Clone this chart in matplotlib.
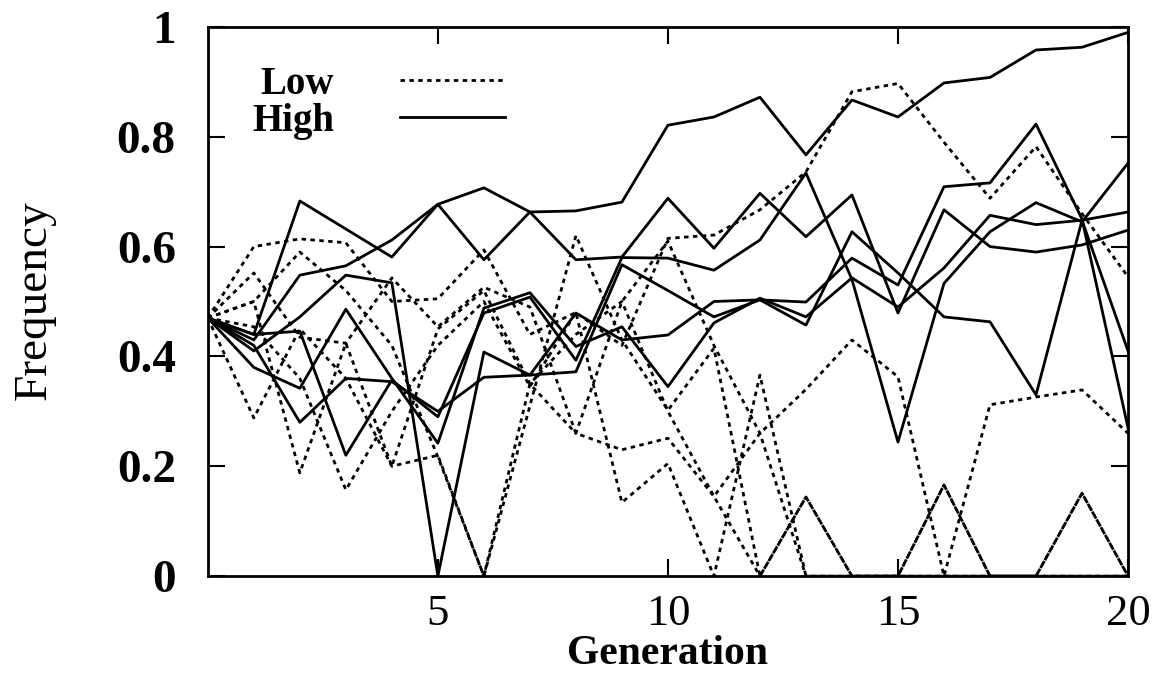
import matplotlib
matplotlib.use("Agg")
from matplotlib import pyplot as plt

# generations 0..20
gen = list(range(21))

# "High" runs (solid)
high_1 = [0.47, 0.43, 0.548, 0.565, 0.612, 0.677, 0.707, 0.663, 0.665, 0.681, 0.821,
          0.836, 0.872, 0.767, 0.867, 0.836, 0.898, 0.908, 0.958, 0.963, 0.99]
high_2 = [0.47, 0.44, 0.683, 0.632, 0.581, 0.677, 0.576, 0.663, 0.576, 0.581, 0.688,
          0.597, 0.697, 0.618, 0.694, 0.479, 0.667, 0.60, 0.59, 0.603, 0.63]
high_3 = [0.47, 0.41, 0.472, 0.548, 0.534, 0.0, 0.408, 0.366, 0.372, 0.567, 0.52,
          0.472, 0.503, 0.457, 0.627, 0.552, 0.472, 0.463, 0.33, 0.648, 0.41]
high_4 = [0.47, 0.44, 0.446, 0.22, 0.357, 0.29, 0.479, 0.508, 0.393, 0.58, 0.579,
          0.557, 0.612, 0.734, 0.54, 0.244, 0.533, 0.627, 0.68, 0.645, 0.752]
high_5 = [0.47, 0.38, 0.342, 0.486, 0.36, 0.242, 0.488, 0.516, 0.418, 0.454, 0.345,
          0.461, 0.506, 0.472, 0.543, 0.49, 0.561, 0.657, 0.64, 0.648, 0.663]
high_6 = [0.47, 0.42, 0.28, 0.36, 0.354, 0.30, 0.362, 0.366, 0.479, 0.43, 0.439,
          0.50, 0.503, 0.499, 0.579, 0.53, 0.709, 0.716, 0.823, 0.65, 0.27]

# "Low" runs (dotted)
low_1 = [0.47, 0.60, 0.614, 0.607, 0.50, 0.505, 0.594, 0.44, 0.48, 0.42, 0.615,
         0.621, 0.667, 0.736, 0.882, 0.897, 0.79, 0.688, 0.782, 0.66, 0.545]
low_2 = [0.47, 0.552, 0.435, 0.424, 0.543, 0.454, 0.526, 0.49, 0.26, 0.23, 0.251,
         0.145, 0.26, 0.34, 0.43, 0.363, 0.0, 0.312, 0.326, 0.339, 0.26]
low_3 = [0.47, 0.50, 0.59, 0.52, 0.42, 0.217, 0.0, 0.31, 0.62, 0.43, 0.302,
         0.415, 0.0, 0.144, 0.0, 0.0, 0.166, 0.0, 0.0, 0.151, 0.0]
low_4 = [0.47, 0.454, 0.36, 0.157, 0.30, 0.42, 0.50, 0.345, 0.48, 0.134, 0.205,
         0.0, 0.366, 0.0, 0.0, 0.0, 0.0, 0.0, 0.0, 0.0, 0.0]
low_5 = [0.47, 0.288, 0.45, 0.36, 0.2, 0.22, 0.0, 0.35, 0.26, 0.50, 0.61,
         0.42, 0.26, 0.0, 0.0, 0.0, 0.0, 0.0, 0.0, 0.0, 0.0]
low_6 = [0.47, 0.50, 0.188, 0.424, 0.2, 0.45, 0.52, 0.35, 0.44, 0.50, 0.30,
         0.145, 0.0, 0.144, 0.0, 0.0, 0.166, 0.0, 0.0, 0.151, 0.0]

high_runs = [high_1, high_2, high_3, high_4, high_5, high_6]
low_runs = [low_1, low_2, low_3, low_4, low_5, low_6]

xticks = [5, 10, 15, 20]
yticks = [0, 0.2, 0.4, 0.6, 0.8, 1]
ytick_labels = ["0", "0.2", "0.4", "0.6", "0.8", "1"]

plt.rcParams['font.family'] = ['Liberation Serif', 'DejaVu Serif']

fig = plt.figure(figsize=(11.61, 6.73), dpi=100)
ax = fig.add_axes([0.179, 0.144, 0.7926, 0.816])

dot = (0, (1.6, 1.6))
for i, run in enumerate(low_runs):
    ax.plot(gen, run, color="black", lw=2.0, linestyle=dot,
            label="Low" if i == 0 else None)
for i, run in enumerate(high_runs):
    ax.plot(gen, run, color="black", lw=2.0, linestyle="-",
            label="High" if i == 0 else None)

ax.set_xlim(0, 20)
ax.set_ylim(0, 1)
ax.set_xticks(xticks)
ax.set_xticklabels([str(t) for t in xticks], fontsize=32)
ax.set_yticks(yticks)
ax.set_yticklabels(ytick_labels, fontsize=34, fontweight="bold")
ax.tick_params(direction="in", length=12, width=1.5, top=True, right=True)
ax.tick_params(axis="x", pad=13)
ax.tick_params(axis="y", pad=23)
for s in ax.spines.values():
    s.set_linewidth(2)

fig.text(0.575, 0.0, "Generation", fontsize=30, fontweight="bold",
         ha="center", va="bottom")
fig.text(0.030, 0.554, "Frequency", fontsize=34, rotation=90,
         ha="center", va="center")

ax.legend(loc="upper left", bbox_to_anchor=(0.048, 0.929), frameon=False,
          markerfirst=False, handlelength=2.7, borderpad=0, borderaxespad=0,
          prop={"weight": "bold", "size": 28}, labelspacing=0.0,
          handletextpad=1.7)

fig.savefig("out.png", dpi=100)
